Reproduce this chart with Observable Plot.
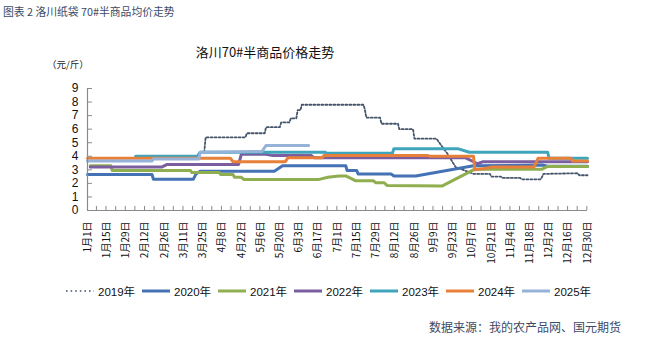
<!DOCTYPE html>
<html><head><meta charset="utf-8">
<script src="https://cdn.jsdelivr.net/npm/d3@7"></script>
<script src="https://cdn.jsdelivr.net/npm/@observablehq/plot@0.6"></script>
<style>
body{margin:0;background:#fff;}
#wrap{position:relative;width:648px;height:338px;overflow:hidden;font-family:"Liberation Sans","Noto Sans CJK SC",sans-serif;}
#chart{position:absolute;left:0;top:0;}
.t{position:absolute;white-space:nowrap;line-height:1;}
#legend{position:absolute;left:66px;top:283px;display:flex;}
#legend .it{display:flex;align-items:center;width:76px;font-size:11.5px;color:#111;}
#legend svg{margin-right:4px;}
</style></head><body>
<div id="wrap">
<div id="chart"></div>
<div class="t" style="left:3px;top:6px;font-size:10.8px;color:#3d4a66;font-family:'Noto Sans CJK SC',sans-serif">图表 2 洛川纸袋 70#半商品均价走势</div>
<div class="t" style="left:265px;top:45px;transform:translateX(-50%);font-size:13px;color:#111;font-family:'Noto Sans CJK SC',sans-serif">洛川70#半商品价格走势</div>
<div class="t" style="left:47px;top:60px;font-size:9.5px;color:#222;font-family:'Noto Sans CJK SC',sans-serif">（元/斤）</div>
<div id="legend"></div>
<div class="t" style="right:27px;top:321px;font-size:12px;color:#3d4a66;font-family:'Noto Sans CJK SC',sans-serif">数据来源：我的农产品网、国元期货</div>
</div>
<script>
// Tick labels (leap-year calendar, every 14 days)
const tickLabels = ["1月1日","1月15日","1月29日","2月12日","2月26日","3月11日","3月25日","4月8日","4月22日","5月6日","5月20日","6月3日","6月17日","7月1日","7月15日","7月29日","8月12日","8月26日","9月9日","9月23日","10月7日","10月21日","11月4日","11月18日","12月2日","12月16日","12月30日"];
const labelDays = [0,14,28,42,56,70,84,98,112,126,140,154,168,182,196,210,224,238,252,266,280,294,308,322,336,350,364];
const yTicks = [0,1,2,3,4,5,6,7,8,9];

const years = ["2019年","2020年","2021年","2022年","2023年","2024年","2025年"];

const days2019 = [85,86,115,116,129,130,140,141,147,148,152,153,155,156,201,202,203,213,214,226,227,237,238,254,259,262,268,276,281,293,294,301,302,315,316,330,332,357,358,364];
const vals2019 = [4.3,5.4,5.4,5.7,5.7,6.15,6.15,6.5,6.5,6.8,6.8,7.4,7.4,7.8,7.8,7.4,6.85,6.85,6.4,6.4,6.0,6.0,5.3,5.3,4.6,4.2,3.2,2.9,2.7,2.7,2.5,2.5,2.4,2.4,2.3,2.3,2.7,2.75,2.6,2.6];

const days2020 = [0,47,48,77,79,82,136,142,188,189,196,197,221,223,239,281,331,335,364];
const vals2020 = [2.65,2.65,2.3,2.3,2.7,2.9,2.9,3.3,3.3,2.95,2.95,2.7,2.7,2.55,2.55,3.3,3.35,3.27,3.27];

const days2021 = [2,17,18,75,76,96,97,106,107,112,114,168,175,183,188,191,195,208,210,216,218,258,282,331,335,364];
const vals2021 = [3.3,3.3,2.95,2.95,2.8,2.8,2.65,2.65,2.45,2.45,2.28,2.28,2.45,2.55,2.55,2.4,2.2,2.2,2.05,2.05,1.85,1.8,3.05,3.05,3.25,3.25];

const days2022 = [2,54,58,110,112,130,135,163,165,275,284,288,364];
const vals2022 = [3.2,3.2,3.4,3.4,4.15,4.15,4.05,4.05,3.9,3.9,3.45,3.6,3.6];

const days2023 = [35,80,82,173,174,222,223,270,278,335,336,364];
const vals2023 = [4.0,4.0,4.3,4.3,4.22,4.22,4.55,4.55,4.3,4.3,3.85,3.85];

const days2024 = [0,104,106,144,146,171,172,248,249,281,282,289,294,325,328,352,353,364];
const vals2024 = [3.85,3.85,3.6,3.6,3.9,3.9,4.05,4.05,4.0,4.0,3.0,3.1,3.2,3.2,3.85,3.85,3.65,3.65];

const days2025 = [0,47,48,81,82,127,130,161];
const vals2025 = [3.65,3.65,3.8,3.8,4.3,4.35,4.8,4.8];

const seriesDays = [days2019,days2020,days2021,days2022,days2023,days2024,days2025];
const seriesVals = [vals2019,vals2020,vals2021,vals2022,vals2023,vals2024,vals2025];
const colors = ["#44546a","#4472b4","#8fae4f","#7a5ea0","#3fa5bc","#e8803a","#97b2d9"];

const rows = [];
years.forEach((y, k) => seriesDays[k].forEach((d, i) => rows.push({year: y, day: d, value: seriesVals[k][i]})));

const minorTicks = d3.range(6.5, 364, 7);
const axisColor = "#8a8a8a";

const lineMarks = years.map((y, k) => Plot.line(rows.filter(r => r.year === y), {
  x: "day", y: "value", stroke: colors[k],
  strokeWidth: k === 0 ? 1.8 : 3,
  strokeDasharray: k === 0 ? "2,2" : null,
  strokeLinejoin: "round"
}));

const chart = Plot.plot({
  width: 648, height: 338,
  marginLeft: 87, marginRight: 61, marginTop: 88, marginBottom: 128,
  x: {domain: [0, 364]},
  y: {domain: [0, 9]},
  style: {fontFamily: "'Liberation Sans','Noto Sans CJK SC',sans-serif", background: "transparent", overflow: "visible"},
  marks: [
    Plot.axisY({ticks: yTicks, tickSize: 0, tickPadding: 9, fontSize: 12, label: null, fill: "#111"}),
    Plot.axisX({ticks: labelDays, tickFormat: d => tickLabels[labelDays.indexOf(d)], tickRotate: -90, tickSize: 0, tickPadding: 11, fontSize: 10, label: null, fill: "#111", fontFamily: "'Noto Sans CJK SC',sans-serif"}),
    ...lineMarks,
    Plot.ruleY(yTicks, {x1: 0, x2: 3.6, stroke: axisColor}),
    Plot.ruleX(minorTicks, {y1: 0, y2: 0.3, stroke: axisColor}),
    Plot.ruleY([0], {stroke: axisColor, strokeWidth: 1.2}),
    Plot.ruleX([0], {stroke: axisColor, strokeWidth: 1.2})
  ]
});
document.getElementById("chart").appendChild(chart);

// Legend
const leg = document.getElementById("legend");
years.forEach((y, k) => {
  const it = document.createElement("div");
  it.className = "it";
  const dash = k === 0 ? 'stroke-dasharray="1.6,3" stroke-width="1.6"' : 'stroke-width="3"';
  it.innerHTML = `<svg width="28" height="8"><line x1="0" y1="4" x2="28" y2="4" stroke="${colors[k]}" ${dash}/></svg><span>${y}</span>`;
  leg.appendChild(it);
});
</script>
</body></html>
